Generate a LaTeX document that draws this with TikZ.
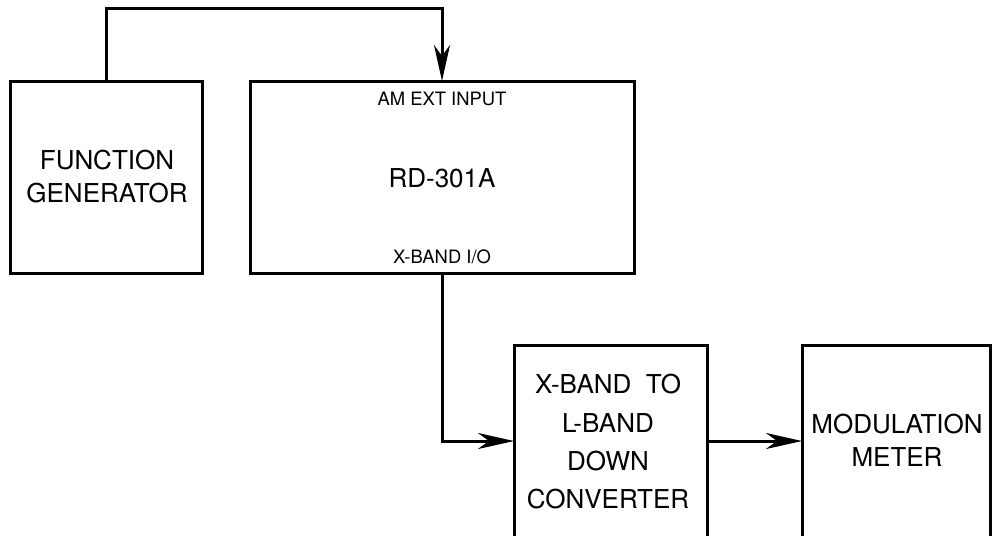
\documentclass[tikz,border=0pt]{standalone}
\usepackage{fontspec}
\setmainfont{TeX Gyre Heros}
\usetikzlibrary{arrows.meta}
\begin{document}
\begin{tikzpicture}[x=1pt,y=-1pt,
  box/.style={draw,line width=3pt,rectangle,anchor=north west,inner sep=0pt,outer sep=0pt},
  big/.style={font=\fontsize{26}{33}\selectfont,inner sep=0pt,anchor=base},
  small/.style={font=\fontsize{18.4}{22}\selectfont,inner sep=0pt,anchor=base},
  conn/.style={line width=3pt},
  arr/.style={conn,-{Stealth[length=36pt,width=16pt,inset=11pt]}}]
\useasboundingbox (0,0) rectangle (992,535);
\clip (0,0) rectangle (992,535);
% boxes
\node[box,minimum width=192pt,minimum height=192pt] (fg) at (10,81) {};
\node[box,minimum width=384pt,minimum height=192pt] (rd) at (250,81) {};
\node[box,minimum width=193pt,minimum height=220pt] (xb) at (514,345) {};
\node[box,minimum width=188pt,minimum height=220pt] (mm) at (802,345) {};
% texts
\node[big] (fg1) at (107,169) {FUNCTION};
\node[big] (fg2) at (107,202) {GENERATOR};
\node[big] (rdt) at (442,187) {RD-301A};
\node[small] (am) at (442,105) {AM EXT INPUT};
\node[small] (xio) at (442,263) {X-BAND I/O};
\node[big] (xb1) at (608,393) {X-BAND\ \ TO};
\node[big] (xb2) at (608,432) {L-BAND};
\node[big] (xb3) at (608,470) {DOWN};
\node[big] (xb4) at (608,508) {CONVERTER};
\node[big] (mm1) at (897,433) {MODULATION};
\node[big] (mm2) at (897,466) {METER};
% connectors
\coordinate (tl) at (106,9);
\coordinate (tr) at (442,9);
\coordinate (c2) at (442,441);
\draw[arr] (fg.north) -- (tl) -- (tr) -- (rd.north);
\draw[arr] (rd.south) -- (c2) -- (c2 -| xb.west);
\draw[arr] (c2 -| xb.east) -- (c2 -| mm.west);
\end{tikzpicture}
\end{document}
